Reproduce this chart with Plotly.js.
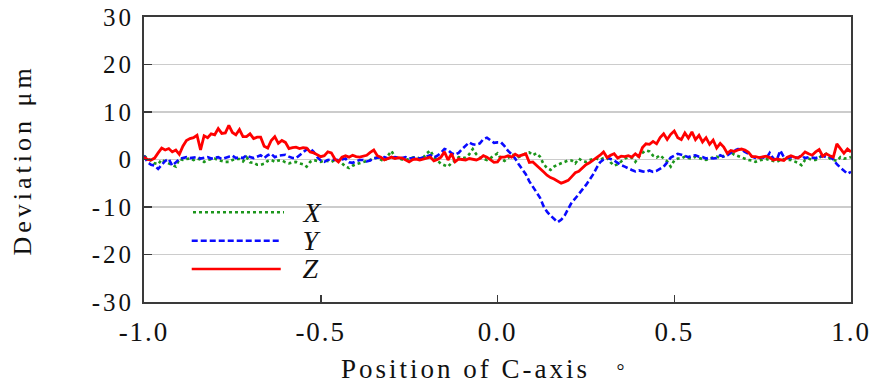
<!DOCTYPE html>
<html>
<head>
<meta charset="utf-8">
<script src="https://cdn.plot.ly/plotly-3.0.1.min.js"></script>
<style>
  html, body { margin: 0; padding: 0; background: #ffffff; }
  #chart { width: 876px; height: 383px; }
  #chart .ytick text { letter-spacing: 3px; }
  #chart .xtick text { letter-spacing: 2px; }
  #chart .annotation-text { letter-spacing: 3px; }
  #chart .annotation:nth-last-child(3) .annotation-text { letter-spacing: 4px; }
</style>
</head>
<body>
<div id="chart"></div>
<script>
// Deviation along the C-axis, sampled every 0.01 from -1.00 to 1.00 (µm)
const sampleStart = -1.0;
const sampleStep = 0.01;

const seriesNames = ['X', 'Y', 'Z'];

const devX = [
  0.8, 0.3, -0.2, -0.8, -1.0, 0.0, -0.5, -0.8, -1.1, -1.5,
  0.1, -0.1, 0.1, 0.2, -0.1, 0.2, 0.0, -0.5, -0.1, 0.1,
  0.2, -0.1, -0.3, -0.5, -0.5, -0.1, 0.1, 0.1, -0.4, 0.5,
  -0.6, -0.7, -1.1, -1.1, -0.9, -0.3, -0.1, -0.5, -0.2, -0.2,
  -0.6, -0.8, -0.6, -0.5, -0.8, -1.0, -1.5, -0.5, -0.1, -0.3,
  -0.5, -0.2, -0.3, -0.5, -0.1, -0.3, -0.8, -1.5, -1.8, -1.3,
  -1.0, -0.8, -0.6, -0.4, -0.1, 0.4, 0.3, 0.0, -0.4, 0.8,
  1.8, 0.5, 0.2, 0.0, -0.1, 0.2, 0.4, 0.5, 0.2, 0.4,
  1.3, 1.9, 0.5, -0.2, -0.9, -1.2, -1.5, -0.7, -0.2, 0.5,
  0.3, 0.4, 1.1, 2.2, 1.1, 0.4, 0.2, -0.1, 0.3, 0.8,
  1.3, 0.1, -0.3, 0.3, 1.1, 0.8, 0.5, 0.9, 1.3, 1.5,
  0.9, 1.3, 0.6, -0.9, -1.8, -2.2, -1.5, -1.1, -0.8, -0.5,
  -0.2, -0.2, -0.8, 0.2, -0.3, -0.5, -0.1, 0.1, 0.2, -0.1,
  0.3, 0.4, -0.6, -1.3, -1.0, -0.4, 0.2, 0.5, 0.4, -0.5,
  0.6, 1.4, 1.9, 1.7, 0.8, 0.4, 0.9, 0.2, -0.4, -1.5,
  -0.2, 0.2, 0.2, 0.6, 0.3, 0.2, 0.6, 0.3, 0.1, -0.1,
  0.2, 0.4, 0.6, 0.3, 0.7, 1.1, 1.6, 1.0, 0.7, 0.5,
  0.2, -0.1, -0.2, -0.5, -0.2, 0.0, 0.1, -0.1, -0.3, -0.5,
  -0.1, 0.1, -0.1, -0.1, -0.4, -0.7, -1.2, -0.1, 0.2, -0.1,
  -0.1, 0.5, 0.9, 1.2, 0.2, -0.1, -0.3, 0.5, 0.2, 0.3,
  0.5
];

const devY = [
  0.8, -0.6, -1.1, -1.3, -2.0, -1.2, -0.3, 0.1, -1.3, -0.6,
  0.1, 0.3, 0.5, 0.3, 0.4, 0.5, 0.2, 0.4, 0.5, 0.2,
  0.3, 0.5, 0.1, 0.4, 0.6, 0.8, 0.3, 0.5, 0.3, 0.9,
  0.5, 0.3, 0.6, 0.9, 0.3, 0.9, 1.2, 0.5, 0.8, 0.9,
  1.0, 0.6, 0.3, 0.3, 0.9, 1.5, 2.1, 2.3, 1.6, 0.5,
  -0.2, -0.5, -0.1, 0.0, -0.1, -0.1, 0.0, 0.2, -0.6, -0.7,
  -0.4, -0.1, -0.1, -0.4, -0.2, 0.2, 0.4, 0.5, 0.5, 0.2,
  0.3, 0.5, 0.3, 0.3, 0.5, 0.2, 0.3, 0.5, 0.2, 0.4,
  0.6, 0.9, 0.4, 0.8, 1.4, 2.2, 2.0, 1.3, 1.0, 1.4,
  2.2, 2.8, 3.6, 3.2, 3.1, 3.4, 4.3, 4.6, 4.0, 3.5,
  3.6, 3.6, 2.8, 1.8, 1.1, 0.2, -1.0, -2.0, -3.1, -4.6,
  -5.8, -6.9, -8.0, -9.8, -11.0, -11.8, -12.5, -13.2, -12.7, -11.8,
  -10.4, -9.0, -8.2, -7.3, -6.2, -5.4, -4.3, -3.2, -1.8, -0.6,
  0.0, 0.4, 0.1, -0.2, -0.7, -1.2, -1.5, -1.9, -2.2, -2.5,
  -2.3, -2.5, -2.6, -2.3, -2.6, -2.4, -1.9, -1.5, -0.6, 0.4,
  0.8, 1.2, 1.0, 0.8, 0.5, 0.8, 0.9, 0.6, 0.5, 0.2,
  0.4, 0.2, 0.3, 0.9, 0.6, 0.9, 1.4, 1.9, 2.2, 2.1,
  1.6, 1.2, 0.6, 0.3, 0.3, 0.5, 0.2, 1.4, 0.2, -0.1,
  1.9, 0.5, 0.3, 0.5, 0.3, 0.4, 0.8, 0.3, 0.5, 0.4,
  0.3, 0.5, 0.8, 0.5, 0.6, 0.0, -1.0, -1.7, -2.3, -3.0,
  -2.6
];

const devZ = [
  0.5, 0.0, -0.1, 0.3, 1.4, 2.4, 2.0, 2.3, 1.6, 2.0,
  1.1, 2.8, 4.0, 4.4, 4.6, 5.1, 2.0, 5.0, 4.6, 5.4,
  5.2, 6.5, 5.5, 5.6, 7.2, 5.7, 5.2, 6.3, 4.8, 4.8,
  5.4, 4.4, 4.7, 4.7, 2.8, 2.4, 4.0, 4.8, 3.4, 4.0,
  3.6, 2.3, 2.5, 2.6, 2.3, 2.5, 2.4, 1.6, 1.4, 1.0,
  0.6, 0.8, 1.6, 1.4, 0.1, -0.5, 0.5, 0.8, 0.5, 0.9,
  0.6, 0.5, 0.7, 0.9, 1.5, 2.0, 0.8, 0.5, -0.1, 0.2,
  0.5, 0.2, 0.4, 0.3, -0.1, -0.5, 0.0, 0.1, -0.1, 0.1,
  0.3, 0.5, -0.3, 0.0, 0.5, 1.6, -0.1, 1.2, -0.5, 0.1,
  0.0, -0.1, 0.2, 0.0, -0.1, 0.2, 0.8, 0.5, -0.1, -0.6,
  -0.5, 0.5, 0.5, 0.8, 0.5, 1.1, 0.7, 0.9, 1.2, -0.6,
  -0.5, -1.2, -1.8, -2.6, -3.3, -3.8, -4.1, -4.6, -5.0, -4.7,
  -4.4, -3.6, -2.8, -2.5, -1.8, -1.1, -0.7, -0.2, 0.3, 0.9,
  1.6, 0.4, 0.9, 1.2, 0.3, 0.7, 0.6, 0.8, 0.5, 1.2,
  0.6, 2.5, 3.3, 3.2, 3.8, 3.3, 4.6, 5.4, 4.2, 5.3,
  6.0, 4.6, 4.2, 5.6, 4.5, 5.8, 4.2, 5.1, 3.7, 4.6,
  3.2, 4.1, 2.4, 3.4, 2.6, 1.3, 1.9, 1.7, 2.0, 2.2,
  2.0, 1.5, 0.6, 0.6, 0.4, 0.5, 0.7, 0.4, -0.1, 0.1,
  -0.1, -0.2, 0.5, 0.8, 0.5, 0.3, 0.8, 1.6, 1.2, 0.9,
  1.6, 2.1, 0.7, 1.2, 0.8, 0.5, 3.3, 2.3, 1.3, 2.2,
  1.6
];

const xTickVals = [-1.0, -0.5, 0.0, 0.5, 1.0];
const xTickText = ['-1.0', '-0.5', '0.0', '0.5', '1.0'];
const yTickVals = [-30, -20, -10, 0, 10, 20, 30];
const yTickText = ['-30', '-20', '-10', '0', '10', '20', '30'];

const positions = devX.map((_, i) => +(sampleStart + i * sampleStep).toFixed(2));

const serif = 'Liberation Serif, Times New Roman, serif';
const axisInk = '#3a3a3a';

const styles = [
  { color: '#1c961c', dash: 'dot', width: 2.6 },
  { color: '#0a0aff', dash: '6px,3px', width: 2.6 },
  { color: '#ff0000', dash: 'solid', width: 2.8 }
];
const seriesValues = [devX, devY, devZ];

const traces = seriesValues.map((vals, k) => ({
  type: 'scatter',
  mode: 'lines',
  name: seriesNames[k],
  x: positions,
  y: vals,
  line: { color: styles[k].color, width: styles[k].width, dash: styles[k].dash },
  hoverinfo: 'skip'
}));

// Hand-drawn key in the lower-left of the plot (paper coordinates)
const keyRows = [0.3147, 0.2151, 0.1158];
const keyShapes = [{
  type: 'rect', xref: 'paper', yref: 'paper', layer: 'below',
  x0: 0.0552, x1: 0.2716, y0: 0.0667, y1: 0.3789,
  fillcolor: '#ffffff', line: { width: 0 }
}];
const keyNotes = [];
seriesNames.forEach((name, k) => {
  keyShapes.push({
    type: 'line', xref: 'paper', yref: 'paper', layer: 'above',
    x0: k === 0 ? 0.0693 : 0.0675, x1: k === 0 ? 0.1980 : 0.1934,
    y0: keyRows[k], y1: keyRows[k],
    line: { color: styles[k].color, width: 2.5, dash: styles[k].dash }
  });
  keyNotes.push({
    xref: 'paper', yref: 'paper', x: 0.2235, y: keyRows[k],
    xanchor: 'left', yanchor: 'middle', showarrow: false,
    text: '<i>' + name + '</i>',
    font: { family: serif, size: 28, color: '#111111' }
  });
});

const axisTitles = [
  {
    xref: 'paper', yref: 'paper', x: -0.1712, y: 0.5,
    xanchor: 'center', yanchor: 'middle', showarrow: false, textangle: -90,
    text: 'Deviation μm',
    font: { family: serif, size: 26, color: '#111111' }
  },
  {
    xref: 'paper', yref: 'paper', x: 0.4547, y: -0.2351,
    xanchor: 'center', yanchor: 'middle', showarrow: false,
    text: 'Position of C-axis',
    font: { family: serif, size: 27, color: '#111111' }
  },
  {
    xref: 'paper', yref: 'paper', x: 0.6754, y: -0.242,
    xanchor: 'center', yanchor: 'middle', showarrow: false,
    text: '°',
    font: { family: serif, size: 20, color: '#111111' }
  }
];

const layout = {
  width: 876,
  height: 383,
  margin: { l: 144, r: 25, t: 17, b: 81 },
  paper_bgcolor: '#ffffff',
  plot_bgcolor: '#ffffff',
  showlegend: false,
  font: { family: serif, color: '#111111' },
  xaxis: {
    range: [-1, 1],
    tickmode: 'array', tickvals: xTickVals, ticktext: xTickText,
    ticks: 'inside', ticklen: 7, tickwidth: 1.5, tickcolor: axisInk,
    showline: true, linecolor: axisInk, linewidth: 2, mirror: true,
    showgrid: false, zeroline: false,
    ticklabelstandoff: 5,
    tickfont: { family: serif, size: 27, color: '#111111' },
    fixedrange: true
  },
  yaxis: {
    range: [-30, 30],
    tickmode: 'array', tickvals: yTickVals, ticktext: yTickText,
    ticks: 'inside', ticklen: 8, tickwidth: 1.5, tickcolor: axisInk,
    showline: true, linecolor: axisInk, linewidth: 2, mirror: true,
    showgrid: true, gridcolor: '#cccccc', gridwidth: 1.6,
    zeroline: false,
    ticklabelstandoff: 3,
    tickfont: { family: serif, size: 25, color: '#111111' },
    fixedrange: true
  },
  shapes: keyShapes,
  annotations: keyNotes.concat(axisTitles)
};

Plotly.newPlot('chart', traces, layout, { staticPlot: true, displayModeBar: false });
</script>
</body>
</html>
